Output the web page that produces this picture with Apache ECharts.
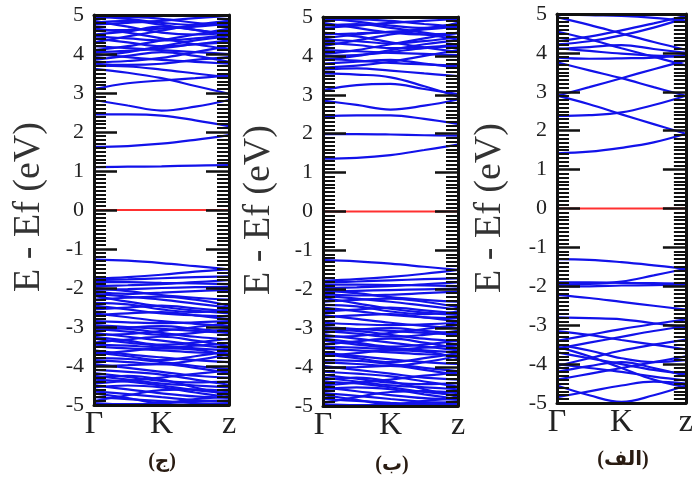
<!DOCTYPE html>
<html>
<head>
<meta charset="utf-8">
<script src="https://cdn.jsdelivr.net/npm/echarts@6/dist/echarts.min.js"></script>
<style>
  html, body { margin: 0; padding: 0; background: #fff; }
  #chart { width: 696px; height: 480px; }
</style>
</head>
<body>
<div id="chart"></div>
<script>
// k-path positions (Γ = 0, K = 1, z = 2) at which each band energy is sampled
const kPos = [0, 0.5, 1, 1.5, 2];
const kLabels = ['Γ', 'K', 'z'];
const yTicks = [-5, -4, -3, -2, -1, 0, 1, 2, 3, 4, 5];
const panelTitles = ['(ج)', '(ب)', '(الف)'];
const axisTitle = 'E - Ef (eV)';
const fermiLevel = 0;

// Panel (ج): band energies in eV
const bandsJim = [
  [1.10, 1.11, 1.12, 1.14, 1.15],
  [1.62, 1.64, 1.70, 1.80, 1.92],
  [2.45, 2.45, 2.42, 2.30, 2.15],
  [2.82, 2.68, 2.55, 2.65, 2.82],
  [3.10, 3.25, 3.32, 3.38, 3.45],
  [3.62, 3.52, 3.38, 3.18, 2.98],
  [3.70, 3.68, 3.60, 3.50, 3.40],
  [3.85, 3.95, 4.05, 3.95, 3.80],
  [4.00, 3.92, 3.85, 3.80, 3.75],
  [4.10, 4.20, 4.35, 4.50, 4.65],
  [4.20, 4.15, 4.10, 4.05, 4.00],
  [4.30, 4.45, 4.60, 4.75, 4.85],
  [4.40, 4.30, 4.20, 4.25, 4.35],
  [4.50, 4.58, 4.70, 4.62, 4.48],
  [4.65, 4.55, 4.40, 4.25, 4.12],
  [4.75, 4.80, 4.85, 4.92, 4.98],
  [4.85, 4.70, 4.55, 4.50, 4.55],
  [4.92, 4.95, 4.90, 4.80, 4.72],
  [4.05, 4.08, 4.15, 4.25, 4.30],
  [3.78, 3.82, 3.90, 4.05, 4.20],
  [4.60, 4.62, 4.65, 4.70, 4.78],
  [4.98, 4.90, 4.80, 4.75, 4.85],
  [3.95, 4.05, 4.20, 4.35, 4.45],
  [4.45, 4.40, 4.35, 4.40, 4.50],
  [4.80, 4.85, 4.75, 4.62, 4.50],
  [3.75, 3.72, 3.75, 3.85, 3.92],
  [-1.27, -1.30, -1.36, -1.44, -1.52],
  [-1.76, -1.72, -1.66, -1.58, -1.52],
  [-1.80, -1.78, -1.75, -1.72, -1.70],
  [-1.85, -1.85, -1.87, -1.88, -1.90],
  [-1.95, -1.93, -1.90, -1.85, -1.80],
  [-2.05, -2.03, -2.00, -1.98, -1.97],
  [-2.10, -2.15, -2.12, -2.08, -2.05],
  [-2.00, -2.08, -2.18, -2.25, -2.30],
  [-2.15, -2.22, -2.30, -2.40, -2.50],
  [-2.20, -2.35, -2.48, -2.58, -2.65],
  [-2.30, -2.25, -2.22, -2.30, -2.45],
  [-2.38, -2.42, -2.55, -2.62, -2.55],
  [-2.45, -2.55, -2.65, -2.70, -2.72],
  [-2.55, -2.50, -2.45, -2.52, -2.60],
  [-2.65, -2.75, -2.85, -2.92, -2.98],
  [-2.70, -2.65, -2.62, -2.70, -2.80],
  [-2.85, -2.88, -2.90, -2.88, -2.85],
  [-2.95, -3.00, -3.05, -3.10, -3.15],
  [-3.00, -3.05, -3.15, -3.25, -3.32],
  [-3.05, -3.12, -3.20, -3.15, -3.05],
  [-3.10, -3.02, -2.98, -3.05, -3.12],
  [-3.15, -3.25, -3.35, -3.45, -3.55],
  [-3.20, -3.18, -3.10, -3.00, -2.90],
  [-3.25, -3.35, -3.45, -3.40, -3.30],
  [-3.30, -3.40, -3.48, -3.55, -3.60],
  [-3.40, -3.32, -3.25, -3.35, -3.50],
  [-3.45, -3.48, -3.52, -3.48, -3.42],
  [-3.50, -3.55, -3.60, -3.65, -3.68],
  [-3.60, -3.70, -3.78, -3.85, -3.90],
  [-3.65, -3.75, -3.85, -3.75, -3.62],
  [-3.70, -3.62, -3.55, -3.58, -3.75],
  [-3.80, -3.82, -3.90, -4.00, -4.08],
  [-3.85, -3.90, -3.95, -3.85, -3.70],
  [-3.95, -4.05, -4.15, -4.25, -4.30],
  [-4.00, -3.98, -3.95, -4.05, -4.18],
  [-4.10, -4.15, -4.22, -4.35, -4.48],
  [-4.18, -4.28, -4.38, -4.42, -4.40],
  [-4.25, -4.35, -4.45, -4.50, -4.55],
  [-4.30, -4.25, -4.35, -4.55, -4.75],
  [-4.35, -4.40, -4.50, -4.62, -4.70],
  [-4.45, -4.38, -4.30, -4.20, -4.12],
  [-4.50, -4.60, -4.70, -4.78, -4.82],
  [-4.55, -4.50, -4.55, -4.68, -4.80],
  [-4.65, -4.72, -4.80, -4.88, -4.92],
  [-4.70, -4.82, -4.95, -4.90, -4.88],
  [-4.80, -4.85, -4.90, -4.95, -4.97],
  [-4.90, -4.75, -4.62, -4.60, -4.65],
  [-4.95, -4.98, -4.95, -4.85, -4.78]
];

// Panel (ب): band energies in eV
const bandsBa = [
  [1.36, 1.38, 1.45, 1.58, 1.72],
  [1.99, 1.99, 1.98, 1.96, 1.95],
  [2.45, 2.47, 2.47, 2.38, 2.25],
  [2.85, 2.74, 2.62, 2.72, 2.88],
  [3.12, 3.25, 3.28, 3.15, 3.02],
  [3.55, 3.52, 3.45, 3.22, 2.95],
  [3.65, 3.68, 3.62, 3.55, 3.48],
  [3.80, 3.85, 3.90, 3.80, 3.70],
  [3.92, 3.88, 3.82, 3.78, 3.75],
  [4.05, 4.15, 4.30, 4.45, 4.60],
  [4.15, 4.12, 4.08, 4.05, 4.02],
  [4.25, 4.40, 4.55, 4.70, 4.82],
  [4.35, 4.28, 4.20, 4.22, 4.30],
  [4.45, 4.55, 4.62, 4.55, 4.42],
  [4.60, 4.50, 4.35, 4.22, 4.10],
  [4.72, 4.78, 4.85, 4.90, 4.95],
  [4.85, 4.72, 4.60, 4.55, 4.58],
  [4.92, 4.94, 4.90, 4.82, 4.75],
  [4.00, 4.02, 4.10, 4.20, 4.25],
  [3.70, 3.75, 3.85, 4.00, 4.15],
  [4.55, 4.58, 4.62, 4.68, 4.75],
  [4.97, 4.88, 4.78, 4.72, 4.85],
  [3.90, 4.00, 4.15, 4.30, 4.40],
  [4.42, 4.38, 4.32, 4.38, 4.48],
  [4.78, 4.82, 4.72, 4.60, 4.48],
  [-1.25, -1.28, -1.34, -1.42, -1.50],
  [-1.78, -1.74, -1.68, -1.60, -1.50],
  [-1.82, -1.80, -1.77, -1.74, -1.72],
  [-1.88, -1.88, -1.89, -1.90, -1.92],
  [-1.97, -1.95, -1.92, -1.87, -1.82],
  [-2.06, -2.04, -2.02, -2.00, -1.98],
  [-2.12, -2.16, -2.14, -2.10, -2.06],
  [-2.02, -2.10, -2.20, -2.27, -2.32],
  [-2.17, -2.24, -2.32, -2.42, -2.52],
  [-2.22, -2.36, -2.50, -2.60, -2.66],
  [-2.32, -2.27, -2.24, -2.32, -2.46],
  [-2.40, -2.44, -2.57, -2.64, -2.57],
  [-2.47, -2.56, -2.66, -2.72, -2.74],
  [-2.57, -2.52, -2.47, -2.54, -2.62],
  [-2.66, -2.76, -2.86, -2.94, -3.00],
  [-2.72, -2.67, -2.64, -2.72, -2.82],
  [-2.86, -2.90, -2.92, -2.90, -2.86],
  [-2.97, -3.02, -3.07, -3.12, -3.17],
  [-3.02, -3.07, -3.17, -3.27, -3.34],
  [-3.07, -3.14, -3.22, -3.17, -3.07],
  [-3.12, -3.04, -3.00, -3.07, -3.14],
  [-3.17, -3.27, -3.37, -3.47, -3.57],
  [-3.22, -3.20, -3.12, -3.02, -2.92],
  [-3.27, -3.37, -3.47, -3.42, -3.32],
  [-3.32, -3.42, -3.50, -3.57, -3.62],
  [-3.42, -3.34, -3.27, -3.37, -3.52],
  [-3.47, -3.50, -3.54, -3.50, -3.44],
  [-3.52, -3.57, -3.62, -3.67, -3.70],
  [-3.62, -3.72, -3.80, -3.87, -3.92],
  [-3.67, -3.77, -3.87, -3.77, -3.64],
  [-3.72, -3.64, -3.57, -3.60, -3.77],
  [-3.82, -3.84, -3.92, -4.02, -4.10],
  [-3.87, -3.92, -3.97, -3.87, -3.72],
  [-3.97, -4.07, -4.17, -4.27, -4.32],
  [-4.02, -4.00, -3.97, -4.07, -4.20],
  [-4.12, -4.17, -4.24, -4.37, -4.50],
  [-4.20, -4.30, -4.40, -4.44, -4.42],
  [-4.27, -4.37, -4.47, -4.52, -4.57],
  [-4.32, -4.27, -4.37, -4.57, -4.77],
  [-4.37, -4.42, -4.52, -4.64, -4.72],
  [-4.47, -4.40, -4.32, -4.22, -4.14],
  [-4.52, -4.62, -4.72, -4.80, -4.84],
  [-4.57, -4.52, -4.57, -4.70, -4.82],
  [-4.67, -4.74, -4.82, -4.90, -4.94],
  [-4.72, -4.84, -4.96, -4.92, -4.90],
  [-4.82, -4.87, -4.92, -4.96, -4.98],
  [-4.92, -4.77, -4.64, -4.62, -4.67],
  [-4.96, -4.98, -4.96, -4.87, -4.80]
];

// Panel (الف): band energies in eV
const bandsAlef = [
  [1.42, 1.46, 1.56, 1.70, 1.92],
  [2.38, 2.40, 2.47, 2.66, 2.90],
  [2.90, 2.68, 2.42, 2.17, 1.92],
  [2.90, 3.12, 3.35, 3.58, 3.80],
  [3.76, 3.55, 3.35, 3.12, 2.90],
  [3.88, 3.85, 3.86, 3.88, 3.95],
  [4.12, 4.05, 3.98, 3.93, 3.90],
  [4.22, 4.30, 4.45, 4.65, 4.90],
  [4.30, 4.42, 4.58, 4.76, 4.95],
  [4.92, 4.72, 4.50, 4.28, 4.08],
  [4.10, 4.15, 4.20, 4.10, 4.00],
  [4.55, 4.35, 4.12, 3.90, 3.68],
  [5.00, 4.97, 4.95, 4.90, 4.82],
  [-1.30, -1.32, -1.38, -1.46, -1.55],
  [-1.95, -1.94, -1.88, -1.72, -1.55],
  [-1.90, -1.90, -1.91, -1.92, -1.93],
  [-2.00, -2.00, -1.98, -1.97, -1.96],
  [-2.22, -2.30, -2.40, -2.50, -2.60],
  [-2.80, -2.82, -2.85, -2.95, -3.05],
  [-3.40, -3.25, -3.10, -2.97, -2.85],
  [-3.60, -3.45, -3.30, -3.15, -3.02],
  [-4.05, -3.85, -3.65, -3.50, -3.37],
  [-3.15, -3.25, -3.38, -3.50, -3.62],
  [-3.50, -3.65, -3.85, -3.95, -3.90],
  [-4.40, -4.25, -4.10, -3.95, -3.80],
  [-4.55, -4.80, -4.97, -4.80, -4.55],
  [-4.00, -4.10, -4.20, -4.32, -4.42],
  [-3.70, -3.85, -4.00, -4.15, -4.25],
  [-4.20, -4.05, -3.95, -4.10, -4.30],
  [-3.55, -3.80, -4.10, -4.40, -4.60],
  [-4.85, -4.70, -4.55, -4.45, -4.50]
];

const panelBands = [bandsJim, bandsBa, bandsAlef];

// Plot frame of each panel, in pixels
const frames = [
  { left: 94, top: 15, width: 135, height: 390 },
  { left: 323, top: 17, width: 135, height: 389 },
  { left: 557, top: 14, width: 133, height: 389 }
];
const titlePos = [[29, 207], [259, 210], [490, 208]];
const captionPos = [[162, 462], [392, 465], [623, 460]];

const BAND_COLOR = '#1212ea';
const FERMI_COLOR = '#ff3030';
const INK = '#111';

const grid = [], xAxis = [], yAxis = [], series = [], graphic = [];

frames.forEach((f, i) => {
  grid.push(Object.assign({ containLabel: false }, f));

  const baseX = {
    gridIndex: i, type: 'value', min: 0, max: 2, interval: 1, z: 10,
    axisLine: { show: true, onZero: false, lineStyle: { color: INK, width: 3 } },
    axisTick: { show: false }, splitLine: { show: false }
  };
  xAxis.push(Object.assign({}, baseX, {
    position: 'bottom',
    axisLabel: {
      show: true, margin: 4, color: '#222', fontSize: 32,
      fontFamily: 'Liberation Serif',
      formatter: v => kLabels[Math.round(v)]
    }
  }));
  xAxis.push(Object.assign({}, baseX, { position: 'top', axisLabel: { show: false } }));

  const baseY = {
    gridIndex: i, type: 'value', min: -5, max: 5, interval: 1, z: 10,
    axisLine: { show: true, onZero: false, lineStyle: { color: INK, width: 3 } },
    axisTick: { show: true, inside: true, length: 23, lineStyle: { color: INK, width: 2.5 } },
    minorTick: { show: true, splitNumber: 10, length: 12, lineStyle: { color: INK, width: 2 } },
    splitLine: { show: false }
  };
  yAxis.push(Object.assign({}, baseY, {
    position: 'left',
    axisLabel: {
      show: true, margin: 10, color: '#222', fontSize: 22,
      fontFamily: 'Liberation Serif',
      formatter: v => (yTicks.indexOf(v) >= 0 ? String(v) : '')
    }
  }));
  yAxis.push(Object.assign({}, baseY, { position: 'right', axisLabel: { show: false } }));

  panelBands[i].forEach(band => {
    series.push({
      type: 'line', xAxisIndex: i * 2, yAxisIndex: i * 2,
      data: kPos.map((k, j) => [k, band[j]]),
      smooth: 0.4, showSymbol: false, silent: true, z: 2,
      lineStyle: { color: BAND_COLOR, width: 2.2 }
    });
  });
  series.push({
    type: 'line', xAxisIndex: i * 2, yAxisIndex: i * 2,
    data: [[0, fermiLevel], [2, fermiLevel]],
    showSymbol: false, silent: true, z: 3,
    lineStyle: { color: FERMI_COLOR, width: 2 }
  });

  graphic.push({
    type: 'text', x: titlePos[i][0], y: titlePos[i][1], rotation: Math.PI / 2,
    style: {
      text: axisTitle, font: '38px "Liberation Serif"', fill: '#333',
      align: 'center', verticalAlign: 'middle',
      textAlign: 'center', textVerticalAlign: 'middle'
    }
  });
  graphic.push({
    type: 'text', x: captionPos[i][0], y: captionPos[i][1],
    style: {
      text: panelTitles[i], font: 'bold 20px "Liberation Serif", "DejaVu Sans"', fill: '#2a1c12',
      align: 'center', verticalAlign: 'middle',
      textAlign: 'center', textVerticalAlign: 'middle'
    }
  });
});

const chart = echarts.init(document.getElementById('chart'), null, { renderer: 'canvas' });
chart.setOption({
  animation: false,
  backgroundColor: '#fff',
  grid, xAxis, yAxis, series, graphic
});
</script>
</body>
</html>
